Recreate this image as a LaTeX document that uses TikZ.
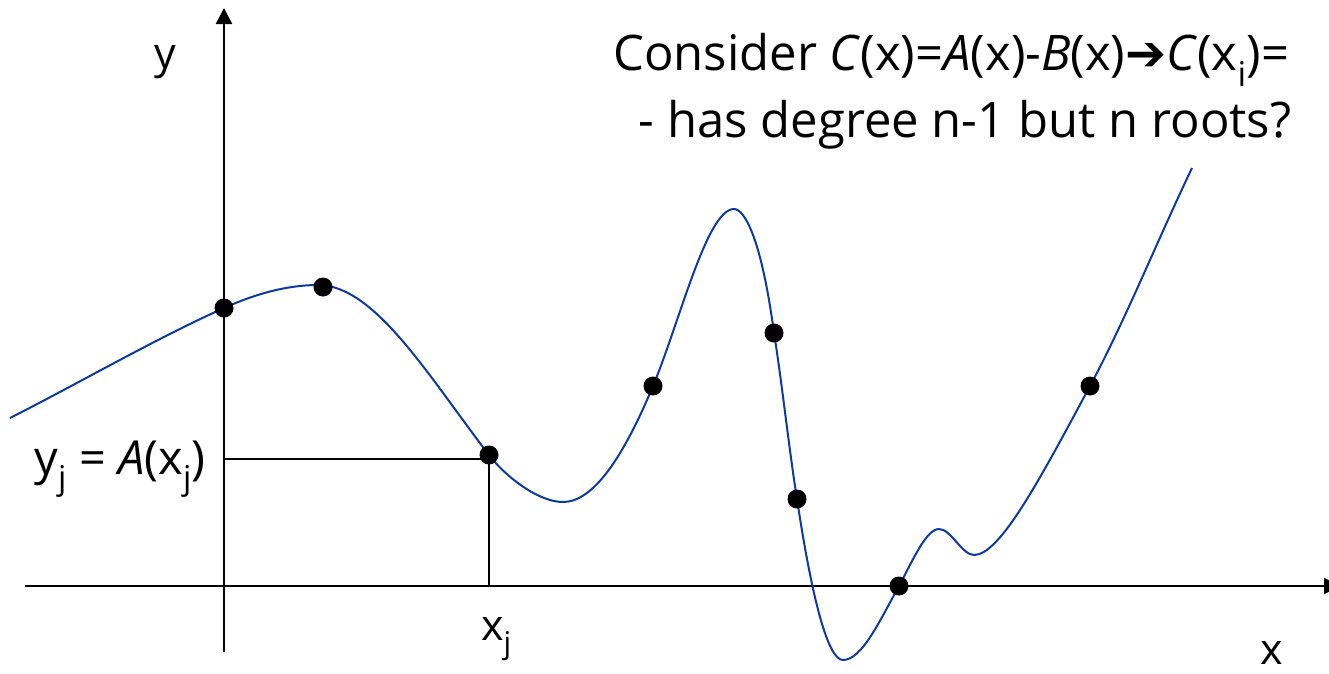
\documentclass[tikz,border=0pt]{standalone}
\usepackage{fontspec}
\setmainfont{Open Sans}
\newfontfamily\arrowfont{DejaVu Sans}
\usepackage{tikz}
\usetikzlibrary{arrows.meta, positioning}
\definecolor{curveblue}{RGB}{12,58,160}

\begin{document}
\begin{tikzpicture}[x=1pt, y=-1pt,
    dot/.style={circle, fill=black, inner sep=0pt, minimum size=19pt},
    lbl/.style={inner sep=0pt, font=\fontsize{43}{50}\selectfont},
    note/.style={inner sep=0pt, font=\fontsize{49}{58}\selectfont}]
  \useasboundingbox (0,0) rectangle (1329,673);
  % Axes
  \coordinate (ybot) at (224,652);
  \coordinate (ytop) at (224,8);
  \coordinate (xleft) at (25,586);
  \coordinate (xright) at (1340,586);
  \draw[-{Triangle[width=16pt, length=16pt]}, line width=2.6pt] (ybot) -- (ytop);
  \draw[-{Triangle[width=16pt, length=16pt]}, line width=2.6pt] (xleft) -- (xright);
  \node[lbl, anchor=base] (ylab) at (165,68) {y};
  \node[lbl, anchor=base] (xlab) at (1272,664) {x};
  % Interpolating polynomial
  \draw[curveblue, line width=2pt] (10,418)
    .. controls (81,382) and (153,340) .. (224,308)
    .. controls (255,294) and (287,285) .. (318,285)
    .. controls (375,285) and (429,377) .. (489,455)
    .. controls (505,476) and (538,502) .. (563,502)
    .. controls (593,502) and (623,458) .. (653,386)
    .. controls (680,321) and (707,209) .. (734,209)
    .. controls (744,209) and (761,236) .. (774,333)
    .. controls (782,383) and (789,449) .. (797,499)
    .. controls (812,599) and (828,660) .. (843,660)
    .. controls (862,660) and (880,620) .. (899,586)
    .. controls (912,562) and (926,529) .. (939,529)
    .. controls (951,529) and (962,555) .. (974,555)
    .. controls (1000,555) and (1040,479) .. (1090,386)
    .. controls (1124,323) and (1158,239) .. (1192,168);
  % Sample points
  \node[dot] (p1) at (224,308) {};
  \node[dot] (p2) at (323,287) {};
  \node[dot] (pj) at (489,455) {};
  \node[dot] (p4) at (653,386) {};
  \node[dot] (p5) at (774,333) {};
  \node[dot] (p6) at (797,499) {};
  \node[dot] (p7) at (899,586) {};
  \node[dot] (p8) at (1090,386) {};
  % Projection of (x_j, y_j)
  \coordinate (yj) at (224,459);
  \coordinate (cj) at (489,459);
  \coordinate (xj) at (489,586);
  \draw[line width=2pt] (yj) -- (cj);
  \draw[line width=2.6pt] (cj) -- (xj);
  \node[lbl, font=\fontsize{47}{54}\selectfont, anchor=base east] (yjlab) at (206,474) {y\textsubscript{j} = \textit{A}(x\textsubscript{j})};
  \node[lbl, anchor=base west] (xjlab) at (481,640) {x\textsubscript{j}};
  % Note on uniqueness
  \node[note, anchor=base west] (note1) at (613,70) {Consider \textit{C}(x)=\textit{A}(x)-\textit{B}(x){\arrowfont ➔}\textit{C}(x\textsubscript{i})=};
  \node[note, anchor=base] (note2) at (965,137) {- has degree n-1 but n roots?};
\end{tikzpicture}
\end{document}
